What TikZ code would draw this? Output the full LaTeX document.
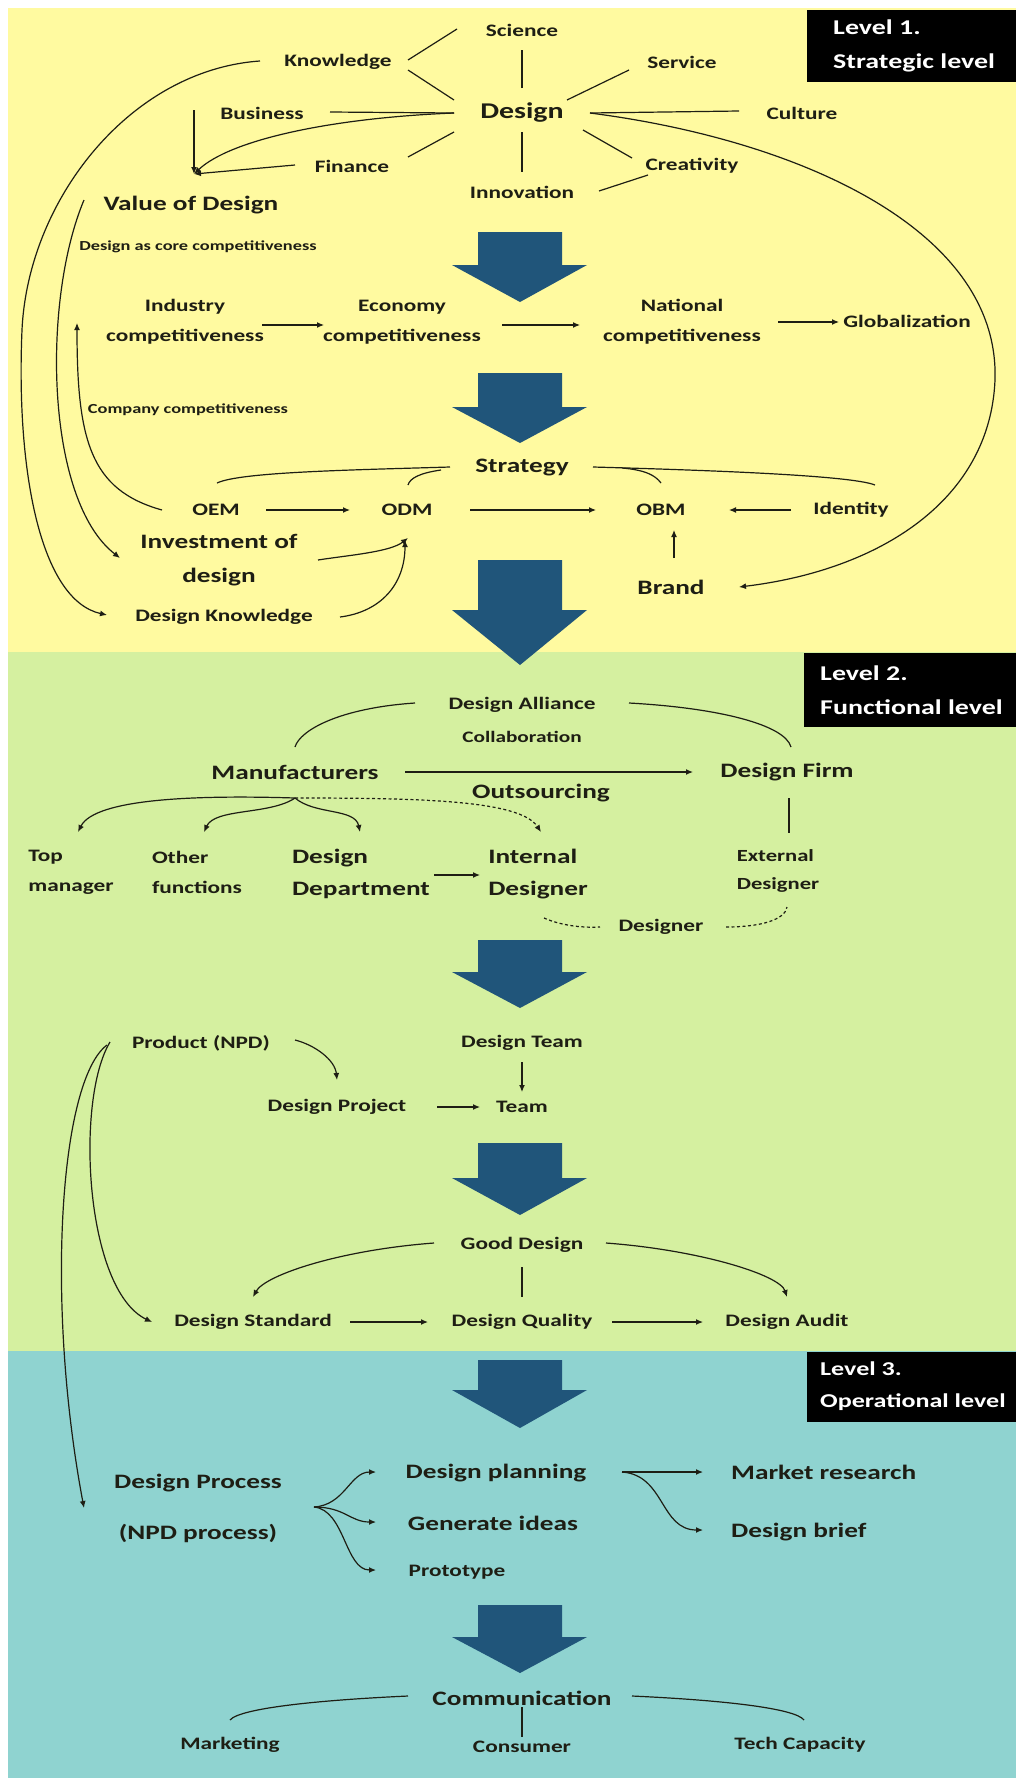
\documentclass[tikz,border=0pt]{standalone}
\usepackage{fontspec}
\setmainfont{Carlito}[FakeStretch=1.33]
\usetikzlibrary{arrows.meta,calc}

\definecolor{bandyellow}{RGB}{255,250,160}
\definecolor{bandgreen}{RGB}{213,240,160}
\definecolor{bandteal}{RGB}{143,211,208}
\definecolor{blockblue}{RGB}{32,85,122}
\definecolor{ink}{RGB}{30,30,20}

\tikzset{
  midtxt/.style={inner sep=0pt, text=ink, font=\fontsize{17.5}{30}\selectfont\bfseries},
  bigtxt/.style={midtxt, font=\fontsize{20.5}{34}\selectfont\bfseries},
  destxt/.style={midtxt, font=\fontsize{22.5}{26}\selectfont\bfseries},
  smalltxt/.style={midtxt, font=\fontsize{13.8}{17}\selectfont\bfseries},
  colltxt/.style={midtxt, font=\fontsize{16}{19}\selectfont\bfseries},
  levtxt/.style={inner sep=0pt, text=white, align=left, font=\fontsize{21}{34}\selectfont\bfseries},
  link/.style={draw=ink, line width=1.2pt},
  flow/.style={link, -{Latex[length=7pt,width=6pt]}},
  dlink/.style={link, dash pattern=on 3pt off 2.5pt},
  dflow/.style={flow, dash pattern=on 3pt off 2.5pt},
}

% broad downward block arrow: top of shaft, shoulder, tip
\newcommand\flowarrow[3]{%
  \fill[blockblue] (478,#1) -- (562,#1) -- (562,#2) -- (587,#2) -- (520,#3)
    -- (452,#2) -- (478,#2) -- cycle;}

\begin{document}
\begin{tikzpicture}[x=1pt,y=-1pt]
\useasboundingbox (0,0) rectangle (1016,1778);

% level bands
\fill[bandyellow] (8,8) rectangle (1016,652);
\fill[bandgreen] (8,652) rectangle (1016,1351);
\fill[bandteal] (8,1351) rectangle (1016,1778);

% level captions
\fill[black] (807,10) rectangle (1016,82);
\node[levtxt, anchor=west] (lvl1) at (833,46) {Level 1.\\Strategic level};
\fill[black] (804,653) rectangle (1016,727);
\node[levtxt, anchor=west] (lvl2) at (820,690) {Level 2.\\Functional level};
\fill[black] (807,1352) rectangle (1016,1422);
\node[levtxt, anchor=west, font=\fontsize{19.6}{32}\selectfont\bfseries] (lvl3) at (820,1386) {Level 3.\\Operational level};

% block arrows between stages
\flowarrow{232}{265}{302}
\flowarrow{373}{407}{443}
\flowarrow{560}{610}{665}
\flowarrow{940}{972}{1008}
\flowarrow{1143}{1178}{1215}
\flowarrow{1360}{1390}{1428}
\flowarrow{1605}{1637}{1673}

% ---------- strategic level ----------
\node[midtxt] (sci) at (522,30) {Science};
\node[midtxt] (know) at (338,62) {Knowledge};
\node[midtxt] (serv) at (682,62) {Service};
\node[midtxt] (bus) at (262,113) {Business};
\node[destxt] (des) at (522,113) {Design};
\node[midtxt] (cult) at (802,113) {Culture};
\node[midtxt] (fin) at (352,166) {Finance};
\node[midtxt] (crea) at (692,166) {Creativity};
\node[midtxt] (inno) at (522,192) {Innovation};
\node[bigtxt] (vod) at (191,205) {Value of Design};
\node[smalltxt] (core) at (198,247) {Design as core competitiveness};
\coordinate (vpt) at (194,174);

\draw[link] ($(des)+(0,-25)$) -- ($(sci)+(0,20)$);
\draw[link] ($(des)+(0,19)$) -- ($(inno)+(0,-20)$);
\draw[link] ($(know)+(70,-2)$) -- ($(sci)+(-65,-1)$);
\draw[link] ($(know)+(70,8)$) -- ($(des)+(-68,-13)$);
\draw[link] ($(serv)+(-53,8)$) -- ($(des)+(45,-13)$);
\draw[link] ($(bus)+(68,-1)$) -- ($(des)+(-68,0)$);
\draw[link] ($(des)+(68,0)$) -- ($(cult)+(-63,-2)$);
\draw[link] ($(fin)+(56,-9)$) -- ($(des)+(-68,19)$);
\draw[link] ($(crea)+(-60,-8)$) -- ($(des)+(61,17)$);
\draw[link] ($(inno)+(77,-1)$) -- ($(crea)+(-44,9)$);
\draw[flow] ($(bus)+(-68,-3)$) -- (vpt);
\draw[flow] ($(des)+(-68,0)$) .. controls (330,118) and (230,140) .. (vpt);
\draw[flow] ($(fin)+(-57,-1)$) -- (vpt);

\node[midtxt, align=center] (ind) at (185,322) {Industry\\competitiveness};
\node[midtxt, align=center] (eco) at (402,322) {Economy\\competitiveness};
\node[midtxt, align=center] (nat) at (682,322) {National\\competitiveness};
\node[midtxt] (glob) at (907,321) {Globalization};
\draw[flow] ($(ind)+(77,3)$) -- ($(eco)+(-78,3)$);
\draw[flow] ($(eco)+(100,3)$) -- ($(nat)+(-102,3)$);
\draw[flow] ($(nat)+(96,0)$) -- ($(glob)+(-68,1)$);
\node[smalltxt] (comp) at (188,410) {Company competitiveness};

\node[bigtxt] (strat) at (522,468) {Strategy};
\node[midtxt] (oem) at (216,510) {OEM};
\node[midtxt] (odm) at (407,510) {ODM};
\node[midtxt] (obm) at (661,510) {OBM};
\node[midtxt] (iden) at (851,510) {Identity};
\node[bigtxt, align=center] (inv) at (219,560) {Investment of\\design};
\node[bigtxt] (brand) at (671,587) {Brand};
\node[midtxt] (dk) at (224,617) {Design Knowledge};

\draw[flow] ($(oem)+(-54,0)$) .. controls (90,490) and (77,440) .. ($(ind)+(-108,1)$);
\draw[link] ($(strat)+(-72,-1)$) .. controls (350,470) and (240,472) .. ($(oem)+(1,-27)$);
\draw[link] ($(strat)+(-81,2)$) .. controls (420,473) and (410,478) .. ($(odm)+(1,-25)$);
\draw[link] ($(strat)+(71,-1)$) .. controls (700,470) and (850,475) .. ($(iden)+(24,-25)$);
\draw[link] ($(strat)+(100,0)$) .. controls (645,470) and (655,475) .. ($(obm)+(0,-27)$);
\draw[flow] ($(oem)+(50,0)$) -- ($(odm)+(-57,0)$);
\draw[flow] ($(odm)+(63,0)$) -- ($(obm)+(-65,0)$);
\draw[flow] ($(iden)+(-60,0)$) -- ($(obm)+(68,0)$);
\draw[flow] ($(brand)+(3,-29)$) -- ($(obm)+(13,20)$);
\draw[flow] ($(inv)+(99,0)$) .. controls (350,555) and (390,552) .. ($(odm)+(1,28)$);
\draw[flow] ($(dk)+(116,0)$) .. controls (380,612) and (405,585) .. ($(odm)+(-2,30)$);

% long feedback curves
\draw[flow] ($(know)+(-78,-1)$) .. controls (130,70) and (28,200) .. (22,330)
  .. controls (16,470) and (40,600) .. ($(dk)+(-117,-2)$);
\draw[flow] ($(vod)+(-107,-5)$) .. controls (42,300) and (45,500) .. ($(inv)+(-99,-2)$);
\draw[flow] ($(des)+(68,0)$) .. controls (800,140) and (1000,230) .. (995,380)
  .. controls (990,500) and (880,570) .. ($(brand)+(68,0)$);

% ---------- functional level ----------
\node[midtxt] (all) at (522,705) {Design Alliance};
\node[colltxt] (coll) at (522,737) {Collaboration};
\node[bigtxt] (manu) at (295,772) {Manufacturers};
\node[bigtxt] (firm) at (787,772) {Design Firm};
\node[bigtxt] (outs) at (541,793) {Outsourcing};
\node[midtxt, align=left] (top) at (71,872) {Top\\manager};
\node[midtxt, align=left] (oth) at (197,872) {Other\\functions};
\node[bigtxt, align=left, font=\fontsize{20.5}{32}\selectfont\bfseries] (ddep) at (361,874) {Design\\Department};
\node[bigtxt, align=left, font=\fontsize{20.5}{32}\selectfont\bfseries] (intd) at (538,874) {Internal\\Designer};
\node[midtxt, align=left, font=\fontsize{17}{28}\selectfont\bfseries] (ext) at (778,871) {External\\Designer};
\node[midtxt] (desr) at (661,927) {Designer};
\coordinate (bp) at ($(manu)+(0,26)$);

\draw[flow] ($(manu)+(110,0)$) -- ($(firm)+(-94,0)$);
\draw[link] ($(all)+(-107,-2)$) .. controls (340,708) and (300,730) .. ($(manu)+(0,-25)$);
\draw[link] ($(all)+(107,-2)$) .. controls (720,708) and (785,725) .. ($(firm)+(4,-25)$);
\draw[link] ($(firm)+(2,26)$) -- ($(ext)+(11,-38)$);
\draw[flow] (bp) .. controls (200,795) and (95,798) .. ($(top)+(7,-40)$);
\draw[flow] (bp) .. controls (270,815) and (215,808) .. ($(oth)+(7,-40)$);
\draw[flow] (bp) .. controls (315,815) and (355,808) .. ($(ddep)+(-1,-42)$);
\draw[dflow] (bp) .. controls (420,798) and (520,800) .. ($(intd)+(3,-42)$);
\draw[flow] ($(ddep)+(73,1)$) -- ($(intd)+(-58,1)$);
\draw[dlink] ($(intd)+(6,44)$) .. controls (560,925) and (580,928) .. ($(desr)+(-61,0)$);
\draw[dlink] ($(desr)+(65,0)$) .. controls (760,927) and (785,920) .. ($(ext)+(9,36)$);

\node[midtxt] (prod) at (201,1043) {Product (NPD)};
\node[midtxt] (dteam) at (522,1043) {Design Team};
\node[midtxt] (dproj) at (337,1107) {Design Project};
\node[midtxt] (team) at (522,1107) {Team};
\draw[flow] ($(prod)+(94,-3)$) .. controls (315,1045) and (335,1060) .. ($(dproj)+(0,-27)$);
\draw[flow] ($(dteam)+(0,19)$) -- ($(team)+(0,-15)$);
\draw[flow] ($(dproj)+(100,0)$) -- ($(team)+(-42,0)$);

\node[midtxt] (good) at (522,1245) {Good Design};
\node[midtxt] (std) at (253,1322) {Design Standard};
\node[midtxt] (qual) at (522,1322) {Design Quality};
\node[midtxt] (aud) at (787,1322) {Design Audit};
\draw[flow] ($(good)+(-88,-2)$) .. controls (340,1250) and (265,1275) .. ($(std)+(0,-25)$);
\draw[flow] ($(good)+(84,-2)$) .. controls (700,1250) and (780,1275) .. ($(aud)+(0,-25)$);
\draw[link] ($(good)+(0,22)$) -- ($(qual)+(0,-25)$);
\draw[flow] ($(std)+(97,0)$) -- ($(qual)+(-94,0)$);
\draw[flow] ($(qual)+(90,0)$) -- ($(aud)+(-84,0)$);

% ---------- operational level ----------
\node[bigtxt, align=center, font=\fontsize{20.5}{51}\selectfont\bfseries] (dproc) at (198,1508) {Design Process\\(NPD process)};
\node[bigtxt] (dplan) at (496,1473) {Design planning};
\node[bigtxt] (gen) at (493,1523) {Generate ideas};
\node[midtxt] (proto) at (457,1572) {Prototype};
\node[bigtxt, anchor=west] (mres) at (731,1472) {Market research};
\node[bigtxt, anchor=west] (brief) at (731,1532) {Design brief};
\coordinate (fork) at ($(dproc)+(116,-1)$);

\draw[flow] ($(prod)+(-91,-1)$) .. controls (75,1100) and (85,1290) .. ($(std)+(-101,0)$);
\draw[flow] ($(prod)+(-94,2)$) .. controls (60,1080) and (45,1300) .. ($(dproc)+(-114,0)$);
\draw[flow] (fork) .. controls (345,1505) and (350,1472) .. ($(dplan)+(-120,-1)$);
\draw[flow] (fork) .. controls (345,1507) and (350,1522) .. ($(gen)+(-117,-1)$);
\draw[flow] (fork) .. controls (345,1510) and (345,1570) .. ($(proto)+(-81,-2)$);
\draw[flow] ($(dplan)+(126,-1)$) -- ($(mres.west)+(-28,0)$);
\draw[flow] ($(dplan)+(126,-1)$) .. controls (665,1475) and (660,1530) .. ($(brief.west)+(-28,-2)$);

\node[bigtxt] (comm) at (522,1698) {Communication};
\node[midtxt] (mkt) at (230,1745) {Marketing};
\node[midtxt] (cons) at (522,1747) {Consumer};
\node[midtxt] (tech) at (800,1745) {Tech Capacity};
\draw[link] ($(comm)+(-114,-2)$) .. controls (320,1700) and (240,1708) .. ($(mkt)+(0,-25)$);
\draw[link] ($(comm)+(110,-2)$) .. controls (720,1700) and (795,1708) .. ($(tech)+(4,-25)$);
\draw[link] ($(comm)+(0,9)$) -- ($(cons)+(0,-10)$);

\end{tikzpicture}
\end{document}
